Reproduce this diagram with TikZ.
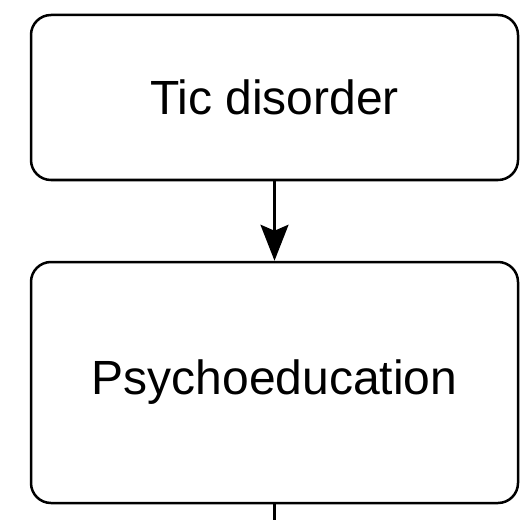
\documentclass[tikz,border=0pt]{standalone}
\usepackage{fontspec}
\setmainfont{Liberation Sans}
\usetikzlibrary{arrows.meta}
\tikzset{
  stagebox/.style={draw,rounded corners=20pt,line width=2.5pt,inner sep=0pt,
    minimum width=487pt,font=\fontsize{48}{56}\selectfont},
  flow/.style={line width=2.5pt,-{Stealth[width=28pt,length=36pt,inset=6pt]}}
}
\begin{document}
\begin{tikzpicture}[x=1pt,y=1pt]
    \useasboundingbox (0,0) rectangle (526,520);
    \node [stagebox,minimum height=165pt] (tic) at (274.5,422.5) {Tic disorder};
    \node [stagebox,minimum height=241pt] (psy) at (274.5,137.5) {Psychoeducation};
    \coordinate (out) at (274.5,0);
    \draw[flow] (tic) to (psy);
    \draw[line width=2.5pt] (psy) to (out);
  \end{tikzpicture}
\end{document}
